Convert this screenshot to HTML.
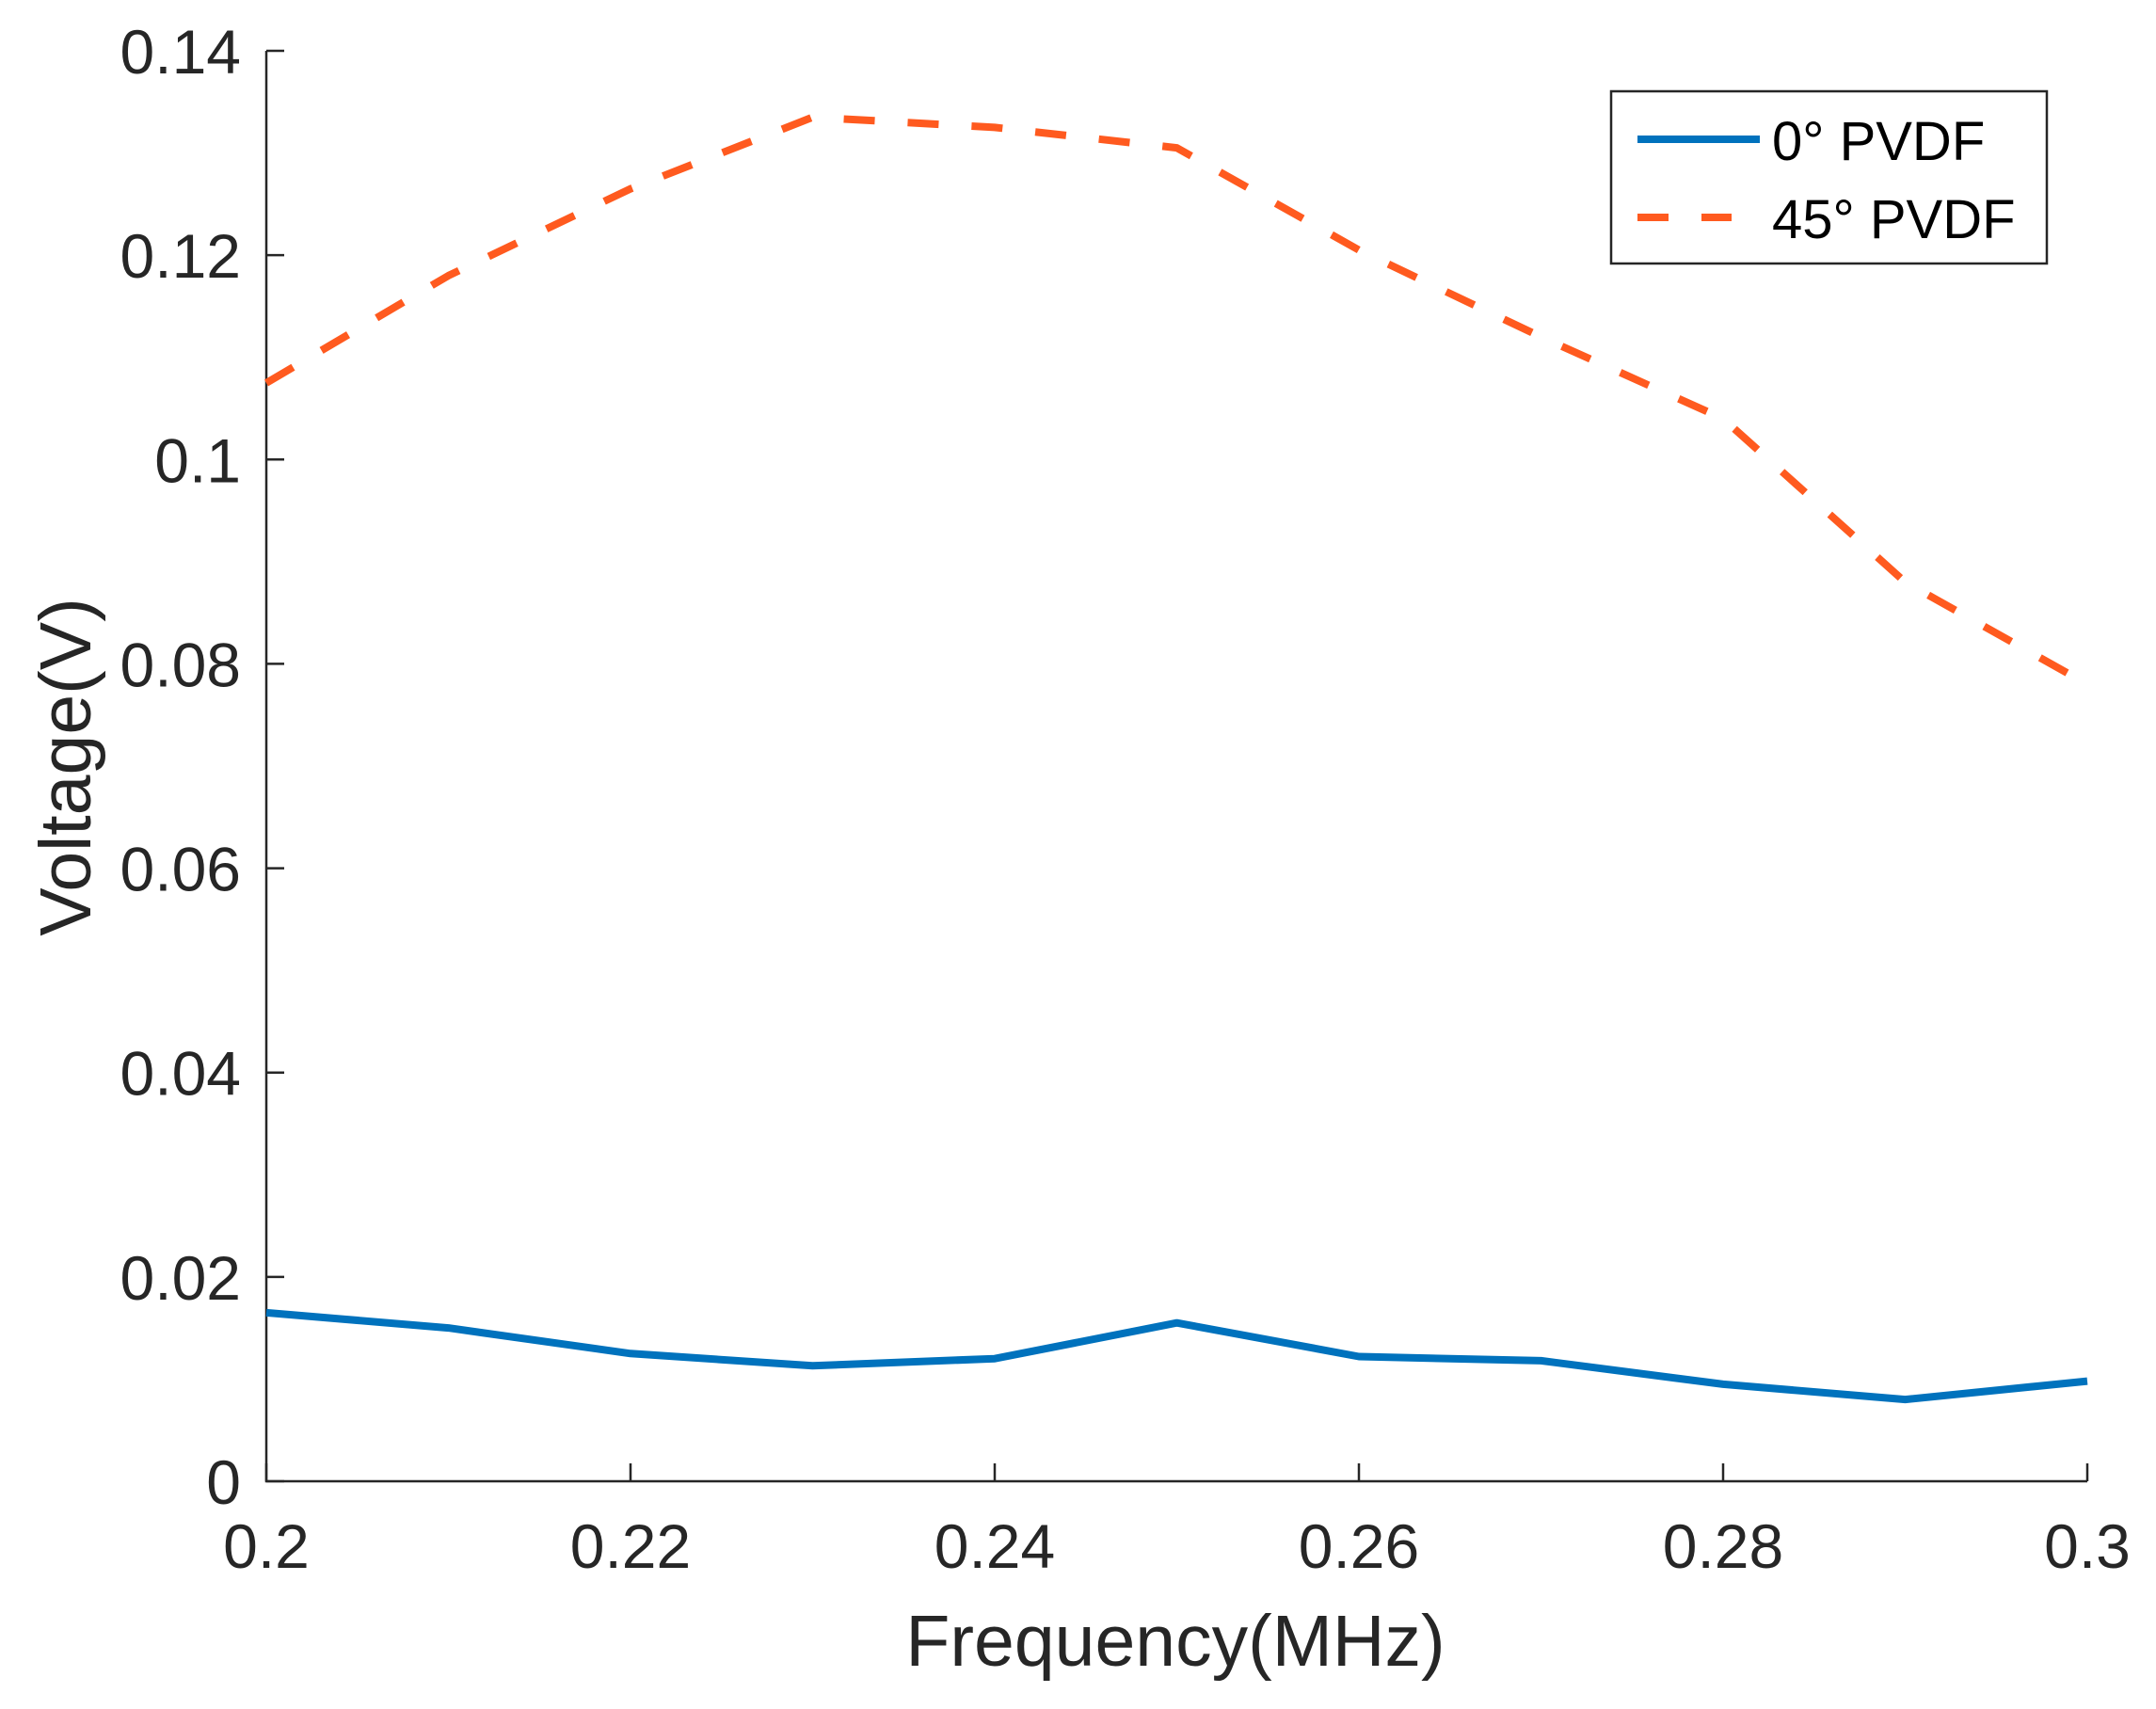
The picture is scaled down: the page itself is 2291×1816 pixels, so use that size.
<!DOCTYPE html>
<html><head><meta charset="utf-8"><style>
html,body{margin:0;padding:0;background:#fff;}
svg{display:block;font-family:"Liberation Sans",Arial,sans-serif;}
</style></head><body>
<svg id="chart" width="2291" height="1816" viewBox="0 0 2291 1816">
<g id="axes"></g>
<g id="series"></g>
<g id="legend">
  <rect x="1712" y="97" width="463" height="183" fill="#fff" stroke="#262626" stroke-width="2.5"/>
  <line x1="1740" y1="148" x2="1870" y2="148" stroke="#0072BD" stroke-width="8"/>
  <text x="1883" y="170" font-size="58" fill="#000">0° PVDF</text>
  <line x1="1740" y1="231" x2="1840" y2="231" stroke="#FF5A1F" stroke-width="8" stroke-dasharray="33,35"/>
  <text x="1883" y="253" font-size="58" fill="#000">45° PVDF</text>
</g>
<text x="1249" y="1770" font-size="77" text-anchor="middle" fill="#262626">Frequency(MHz)</text>
<text transform="translate(96,815) rotate(-90)" font-size="77" text-anchor="middle" fill="#262626">Voltage(V)</text>
</svg>
<script>
const frequencies = [0.20,0.21,0.22,0.23,0.24,0.25,0.26,0.27,0.28,0.29,0.30];
const voltage0 = [0.0165,0.0150,0.0125,0.0113,0.0120,0.0155,0.0122,0.0118,0.0095,0.0080,0.0098];
const voltage45 = [0.1075,0.1180,0.1265,0.1335,0.1325,0.1305,0.1205,0.1120,0.1040,0.0880,0.0780];
const xTicks = [0.2,0.22,0.24,0.26,0.28,0.3];
const xTickLabels = ["0.2","0.22","0.24","0.26","0.28","0.3"];
const yTicks = [0,0.02,0.04,0.06,0.08,0.1,0.12,0.14];
const yTickLabels = ["0","0.02","0.04","0.06","0.08","0.1","0.12","0.14"];

const L=283,R=2218,T=54,B=1574;
const X0=0.2,X1=0.3,Y0=0,Y1=0.14;
function xs(v){return L+(v-X0)/(X1-X0)*(R-L);}
function ys(v){return B-(v-Y0)/(Y1-Y0)*(B-T);}
const NS="http://www.w3.org/2000/svg";
function mk(tag,attrs,parent){const e=document.createElementNS(NS,tag);for(const k in attrs)e.setAttribute(k,attrs[k]);parent.appendChild(e);return e;}
const axes=document.getElementById('axes');
const series=document.getElementById('series');

const xAxis=mk('path',{d:`M${L},${T} L${L},${B} L${R},${B}`,fill:'none',stroke:'#262626','stroke-width':2.5},axes);



xTicks.forEach((t,i)=>{
  const x=xs(t);
  const tk=mk('line',{x1:x,y1:B,x2:x,y2:B-19,stroke:'#262626','stroke-width':2.5},axes);
  
  
  const lb=mk('text',{x:x,y:1666,'font-size':66,'text-anchor':'middle',fill:'#262626'},axes);
  lb.textContent=xTickLabels[i];
  
  
});
yTicks.forEach((t,i)=>{
  const y=ys(t);
  const tk=mk('line',{x1:L,y1:y,x2:L+19,y2:y,stroke:'#262626','stroke-width':2.5},axes);
  
  
  const lb=mk('text',{x:256,y:y+24,'font-size':66,'text-anchor':'end',fill:'#262626'},axes);
  lb.textContent=yTickLabels[i];
  
  
});

function pathFor(vals){return vals.map((v,i)=>(i?'L':'M')+xs(frequencies[i]).toFixed(1)+','+ys(v).toFixed(1)).join(' ');}
const l45=mk('path',{d:pathFor(voltage45),fill:'none',stroke:'#FF5A1F','stroke-width':8,'stroke-dasharray':'33,35','stroke-linejoin':'round'},series);


const l0=mk('path',{d:pathFor(voltage0),fill:'none',stroke:'#0072BD','stroke-width':8,'stroke-linejoin':'round'},series);


</script>
</body></html>
